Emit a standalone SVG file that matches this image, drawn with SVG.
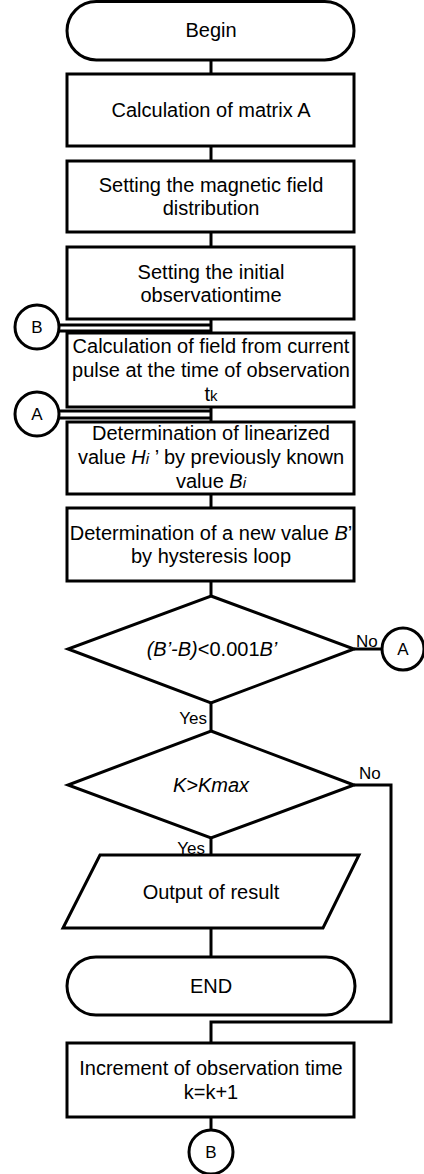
<svg xmlns="http://www.w3.org/2000/svg" width="424" height="1174" viewBox="0 0 424 1174">
<style>
.s{fill:#fff;stroke:#000;stroke-width:3}
.c{fill:none;stroke:#000;stroke-width:3}
.t{font-family:"Liberation Sans",Arial,sans-serif;font-size:20px;fill:#000;text-anchor:middle}
.l{font-family:"Liberation Sans",Arial,sans-serif;font-size:17px;fill:#000}
.i{font-style:italic}
</style>
<rect width="424" height="1174" fill="#fff"/>
<g id="connectors">
<line class="c" x1="211" y1="60" x2="211" y2="74"/>
<line class="c" x1="211" y1="146" x2="211" y2="161"/>
<line class="c" x1="211" y1="232" x2="211" y2="247"/>
<line class="c" x1="211" y1="319" x2="211" y2="333"/>
<line class="c" x1="59" y1="325" x2="211" y2="325"/>
<line class="c" x1="59" y1="331" x2="211" y2="331"/>
<line class="c" x1="211" y1="407" x2="211" y2="422"/>
<line class="c" x1="59" y1="411" x2="211" y2="411"/>
<line class="c" x1="59" y1="418" x2="211" y2="418"/>
<line class="c" x1="211" y1="494" x2="211" y2="508"/>
<line class="c" x1="211" y1="581" x2="211" y2="596"/>
<line class="c" x1="354" y1="649" x2="382" y2="649"/>
<line class="c" x1="211" y1="703" x2="211" y2="731"/>
<polyline class="c" points="354,785 391,785 391,1022 211,1022 211,1043"/>
<line class="c" x1="211" y1="838" x2="211" y2="855"/>
<line class="c" x1="211" y1="928" x2="211" y2="957"/>
<line class="c" x1="211" y1="1117" x2="211" y2="1130"/>
<text class="l" x="356" y="647">No</text>
<text class="l" x="207" y="724" text-anchor="end">Yes</text>
<text class="l" x="359" y="779">No</text>
<text class="l" x="205" y="854" text-anchor="end">Yes</text>
</g>
<g id="begin">
<rect class="s" x="67" y="1.5" width="287" height="58.5" rx="29.25"/>
<text class="t" x="211" y="37">Begin</text>
</g>
<g id="matrixA">
<rect class="s" x="67" y="74" width="287" height="72"/>
<text class="t" x="211" y="117">Calculation of matrix A</text>
</g>
<g id="fieldDist">
<rect class="s" x="67" y="161" width="287" height="71"/>
<text class="t" x="211" y="192">Setting the magnetic field</text>
<text class="t" x="211" y="215">distribution</text>
</g>
<g id="initTime">
<rect class="s" x="67" y="247" width="287" height="72"/>
<text class="t" x="211" y="279">Setting the initial</text>
<text class="t" x="211" y="302">observationtime</text>
</g>
<g id="connB1">
<circle class="s" cx="37" cy="327" r="22"/>
<text class="l" x="37" y="333" text-anchor="middle">B</text>
</g>
<g id="calcField">
<rect class="s" x="67" y="333" width="287" height="74"/>
<text class="t" x="211" y="353">Calculation of field from current</text>
<text class="t" x="211" y="377">pulse at the time of observation</text>
<text class="t" x="211" y="401">t<tspan font-size="15">k</tspan></text>
</g>
<g id="connA1">
<circle class="s" cx="37" cy="414" r="22"/>
<text class="l" x="37" y="420" text-anchor="middle">A</text>
</g>
<g id="linearized">
<rect class="s" x="67" y="422" width="287" height="72"/>
<text class="t" x="211" y="440">Determination of linearized</text>
<text class="t" x="211" y="464">value <tspan class="i">H</tspan><tspan class="i" font-size="15">i</tspan> ’ by previously known</text>
<text class="t" x="211" y="488">value <tspan class="i">B</tspan><tspan class="i" font-size="15">i</tspan></text>
</g>
<g id="newB">
<rect class="s" x="67" y="508" width="287" height="73"/>
<text class="t" x="211" y="540">Determination of a new value <tspan class="i">B</tspan>’</text>
<text class="t" x="211" y="563">by hysteresis loop</text>
</g>
<g id="cond1">
<polygon class="s" points="211,596 354,649 211,703 68,649"/>
<text class="t" x="212" y="656"><tspan class="i">(B’-B)</tspan>&lt;0.001<tspan class="i">B’</tspan></text>
</g>
<g id="connA2">
<circle class="s" cx="403" cy="649" r="21"/>
<text class="l" x="403" y="655" text-anchor="middle">A</text>
</g>
<g id="cond2">
<polygon class="s" points="211,731 354,785 211,838 68,785"/>
<text class="t i" x="211" y="792">K&gt;Kmax</text>
</g>
<g id="output">
<polygon class="s" points="100,855 359,855 323,928 63,928"/>
<text class="t" x="211" y="899">Output of result</text>
</g>
<g id="end">
<rect class="s" x="67" y="957" width="288" height="58" rx="29"/>
<text class="t" x="211" y="993">END</text>
</g>
<g id="increment">
<rect class="s" x="67" y="1043" width="287" height="74"/>
<text class="t" x="211" y="1075">Increment of observation time</text>
<text class="t" x="211" y="1099">k=k+1</text>
</g>
<g id="connB2">
<circle class="s" cx="211" cy="1152" r="22"/>
<text class="l" x="211" y="1158" text-anchor="middle">B</text>
</g>
</svg>
